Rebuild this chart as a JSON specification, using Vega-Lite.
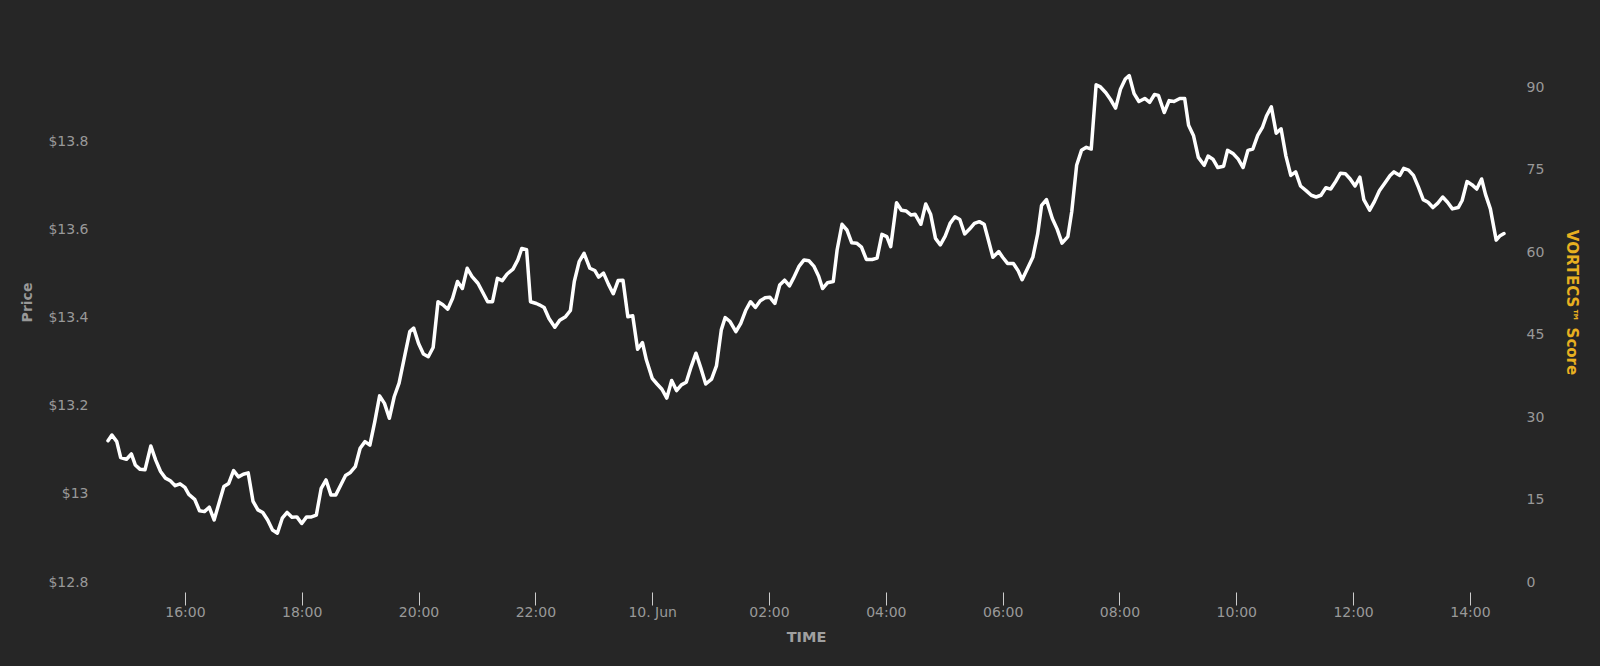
{
"$schema": "https://vega.github.io/schema/vega-lite/v6.json",
"width": 1396,
"height": 560,
"autosize": {"type": "none"},
"padding": {"left": 108, "top": 22, "right": 96, "bottom": 84},
"background": "#262626",
"config": {"view": {"stroke": null}, "font": "DejaVu Sans"},
"data": {"values": [
{"t":"2021-06-09T14:41:00Z","p":13.121},{"t":"2021-06-09T14:45:00Z","p":13.134},{"t":"2021-06-09T14:50:00Z","p":13.119},{"t":"2021-06-09T14:54:00Z","p":13.083},{"t":"2021-06-09T15:00:00Z","p":13.079},{"t":"2021-06-09T15:05:00Z","p":13.091},{"t":"2021-06-09T15:09:00Z","p":13.066},{"t":"2021-06-09T15:14:00Z","p":13.056},{"t":"2021-06-09T15:19:00Z","p":13.055},{"t":"2021-06-09T15:25:00Z","p":13.109},{"t":"2021-06-09T15:30:00Z","p":13.077},{"t":"2021-06-09T15:35:00Z","p":13.051},{"t":"2021-06-09T15:40:00Z","p":13.036},{"t":"2021-06-09T15:45:00Z","p":13.030},{"t":"2021-06-09T15:50:00Z","p":13.019},{"t":"2021-06-09T15:55:00Z","p":13.023},{"t":"2021-06-09T16:00:00Z","p":13.015},{"t":"2021-06-09T16:04:00Z","p":12.999},{"t":"2021-06-09T16:10:00Z","p":12.988},{"t":"2021-06-09T16:15:00Z","p":12.962},{"t":"2021-06-09T16:20:00Z","p":12.960},{"t":"2021-06-09T16:25:00Z","p":12.970},{"t":"2021-06-09T16:30:00Z","p":12.941},{"t":"2021-06-09T16:35:00Z","p":12.979},{"t":"2021-06-09T16:40:00Z","p":13.017},{"t":"2021-06-09T16:45:00Z","p":13.024},{"t":"2021-06-09T16:50:00Z","p":13.053},{"t":"2021-06-09T16:55:00Z","p":13.039},{"t":"2021-06-09T17:00:00Z","p":13.045},{"t":"2021-06-09T17:05:00Z","p":13.048},{"t":"2021-06-09T17:10:00Z","p":12.983},{"t":"2021-06-09T17:15:00Z","p":12.964},{"t":"2021-06-09T17:20:00Z","p":12.958},{"t":"2021-06-09T17:25:00Z","p":12.941},{"t":"2021-06-09T17:30:00Z","p":12.918},{"t":"2021-06-09T17:35:00Z","p":12.911},{"t":"2021-06-09T17:40:00Z","p":12.945},{"t":"2021-06-09T17:45:00Z","p":12.958},{"t":"2021-06-09T17:50:00Z","p":12.947},{"t":"2021-06-09T17:55:00Z","p":12.948},{"t":"2021-06-09T18:00:00Z","p":12.933},{"t":"2021-06-09T18:05:00Z","p":12.948},{"t":"2021-06-09T18:10:00Z","p":12.948},{"t":"2021-06-09T18:15:00Z","p":12.952},{"t":"2021-06-09T18:20:00Z","p":13.013},{"t":"2021-06-09T18:25:00Z","p":13.032},{"t":"2021-06-09T18:30:00Z","p":12.998},{"t":"2021-06-09T18:35:00Z","p":12.998},{"t":"2021-06-09T18:40:00Z","p":13.020},{"t":"2021-06-09T18:45:00Z","p":13.042},{"t":"2021-06-09T18:50:00Z","p":13.049},{"t":"2021-06-09T18:55:00Z","p":13.062},{"t":"2021-06-09T19:00:00Z","p":13.104},{"t":"2021-06-09T19:05:00Z","p":13.119},{"t":"2021-06-09T19:10:00Z","p":13.111},{"t":"2021-06-09T19:15:00Z","p":13.164},{"t":"2021-06-09T19:20:00Z","p":13.223},{"t":"2021-06-09T19:25:00Z","p":13.206},{"t":"2021-06-09T19:30:00Z","p":13.172},{"t":"2021-06-09T19:35:00Z","p":13.221},{"t":"2021-06-09T19:40:00Z","p":13.252},{"t":"2021-06-09T19:46:00Z","p":13.316},{"t":"2021-06-09T19:51:00Z","p":13.369},{"t":"2021-06-09T19:55:00Z","p":13.377},{"t":"2021-06-09T20:00:00Z","p":13.342},{"t":"2021-06-09T20:05:00Z","p":13.318},{"t":"2021-06-09T20:10:00Z","p":13.312},{"t":"2021-06-09T20:15:00Z","p":13.333},{"t":"2021-06-09T20:20:00Z","p":13.437},{"t":"2021-06-09T20:25:00Z","p":13.430},{"t":"2021-06-09T20:30:00Z","p":13.420},{"t":"2021-06-09T20:35:00Z","p":13.445},{"t":"2021-06-09T20:40:00Z","p":13.483},{"t":"2021-06-09T20:45:00Z","p":13.467},{"t":"2021-06-09T20:50:00Z","p":13.513},{"t":"2021-06-09T20:55:00Z","p":13.494},{"t":"2021-06-09T21:01:00Z","p":13.479},{"t":"2021-06-09T21:06:00Z","p":13.458},{"t":"2021-06-09T21:11:00Z","p":13.437},{"t":"2021-06-09T21:16:00Z","p":13.437},{"t":"2021-06-09T21:21:00Z","p":13.490},{"t":"2021-06-09T21:26:00Z","p":13.485},{"t":"2021-06-09T21:31:00Z","p":13.500},{"t":"2021-06-09T21:37:00Z","p":13.511},{"t":"2021-06-09T21:42:00Z","p":13.532},{"t":"2021-06-09T21:46:00Z","p":13.558},{"t":"2021-06-09T21:51:00Z","p":13.555},{"t":"2021-06-09T21:55:00Z","p":13.437},{"t":"2021-06-09T22:01:00Z","p":13.433},{"t":"2021-06-09T22:04:00Z","p":13.430},{"t":"2021-06-09T22:09:00Z","p":13.424},{"t":"2021-06-09T22:14:00Z","p":13.399},{"t":"2021-06-09T22:20:00Z","p":13.379},{"t":"2021-06-09T22:25:00Z","p":13.395},{"t":"2021-06-09T22:31:00Z","p":13.403},{"t":"2021-06-09T22:36:00Z","p":13.417},{"t":"2021-06-09T22:40:00Z","p":13.483},{"t":"2021-06-09T22:45:00Z","p":13.528},{"t":"2021-06-09T22:50:00Z","p":13.547},{"t":"2021-06-09T22:56:00Z","p":13.513},{"t":"2021-06-09T23:01:00Z","p":13.508},{"t":"2021-06-09T23:05:00Z","p":13.493},{"t":"2021-06-09T23:10:00Z","p":13.502},{"t":"2021-06-09T23:15:00Z","p":13.477},{"t":"2021-06-09T23:20:00Z","p":13.455},{"t":"2021-06-09T23:25:00Z","p":13.485},{"t":"2021-06-09T23:30:00Z","p":13.486},{"t":"2021-06-09T23:35:00Z","p":13.403},{"t":"2021-06-09T23:40:00Z","p":13.405},{"t":"2021-06-09T23:45:00Z","p":13.329},{"t":"2021-06-09T23:50:00Z","p":13.344},{"t":"2021-06-09T23:54:00Z","p":13.305},
{"t":"2021-06-10T00:00:00Z","p":13.263},{"t":"2021-06-10T00:05:00Z","p":13.250},{"t":"2021-06-10T00:10:00Z","p":13.238},{"t":"2021-06-10T00:15:00Z","p":13.218},{"t":"2021-06-10T00:20:00Z","p":13.258},{"t":"2021-06-10T00:25:00Z","p":13.235},{"t":"2021-06-10T00:30:00Z","p":13.248},{"t":"2021-06-10T00:35:00Z","p":13.254},{"t":"2021-06-10T00:40:00Z","p":13.289},{"t":"2021-06-10T00:45:00Z","p":13.320},{"t":"2021-06-10T00:50:00Z","p":13.286},{"t":"2021-06-10T00:55:00Z","p":13.250},{"t":"2021-06-10T01:01:00Z","p":13.261},{"t":"2021-06-10T01:06:00Z","p":13.291},{"t":"2021-06-10T01:11:00Z","p":13.373},{"t":"2021-06-10T01:15:00Z","p":13.401},{"t":"2021-06-10T01:20:00Z","p":13.392},{"t":"2021-06-10T01:26:00Z","p":13.369},{"t":"2021-06-10T01:31:00Z","p":13.388},{"t":"2021-06-10T01:36:00Z","p":13.417},{"t":"2021-06-10T01:41:00Z","p":13.437},{"t":"2021-06-10T01:46:00Z","p":13.424},{"t":"2021-06-10T01:51:00Z","p":13.439},{"t":"2021-06-10T01:56:00Z","p":13.446},{"t":"2021-06-10T02:01:00Z","p":13.447},{"t":"2021-06-10T02:06:00Z","p":13.433},{"t":"2021-06-10T02:11:00Z","p":13.475},{"t":"2021-06-10T02:16:00Z","p":13.486},{"t":"2021-06-10T02:21:00Z","p":13.473},{"t":"2021-06-10T02:25:00Z","p":13.490},{"t":"2021-06-10T02:31:00Z","p":13.518},{"t":"2021-06-10T02:36:00Z","p":13.532},{"t":"2021-06-10T02:41:00Z","p":13.530},{"t":"2021-06-10T02:46:00Z","p":13.518},{"t":"2021-06-10T02:51:00Z","p":13.495},{"t":"2021-06-10T02:55:00Z","p":13.467},{"t":"2021-06-10T03:00:00Z","p":13.480},{"t":"2021-06-10T03:06:00Z","p":13.483},{"t":"2021-06-10T03:10:00Z","p":13.555},{"t":"2021-06-10T03:15:00Z","p":13.613},{"t":"2021-06-10T03:20:00Z","p":13.600},{"t":"2021-06-10T03:25:00Z","p":13.571},{"t":"2021-06-10T03:30:00Z","p":13.570},{"t":"2021-06-10T03:35:00Z","p":13.561},{"t":"2021-06-10T03:40:00Z","p":13.533},{"t":"2021-06-10T03:46:00Z","p":13.533},{"t":"2021-06-10T03:51:00Z","p":13.536},{"t":"2021-06-10T03:56:00Z","p":13.590},{"t":"2021-06-10T04:01:00Z","p":13.585},{"t":"2021-06-10T04:05:00Z","p":13.562},{"t":"2021-06-10T04:11:00Z","p":13.662},{"t":"2021-06-10T04:16:00Z","p":13.645},{"t":"2021-06-10T04:21:00Z","p":13.643},{"t":"2021-06-10T04:26:00Z","p":13.634},{"t":"2021-06-10T04:30:00Z","p":13.636},{"t":"2021-06-10T04:36:00Z","p":13.613},{"t":"2021-06-10T04:41:00Z","p":13.659},{"t":"2021-06-10T04:46:00Z","p":13.636},{"t":"2021-06-10T04:51:00Z","p":13.581},{"t":"2021-06-10T04:56:00Z","p":13.566},{"t":"2021-06-10T05:01:00Z","p":13.586},{"t":"2021-06-10T05:06:00Z","p":13.615},{"t":"2021-06-10T05:11:00Z","p":13.630},{"t":"2021-06-10T05:16:00Z","p":13.624},{"t":"2021-06-10T05:21:00Z","p":13.591},{"t":"2021-06-10T05:26:00Z","p":13.602},{"t":"2021-06-10T05:31:00Z","p":13.615},{"t":"2021-06-10T05:36:00Z","p":13.619},{"t":"2021-06-10T05:41:00Z","p":13.613},{"t":"2021-06-10T05:45:00Z","p":13.580},{"t":"2021-06-10T05:50:00Z","p":13.538},{"t":"2021-06-10T05:56:00Z","p":13.551},{"t":"2021-06-10T06:00:00Z","p":13.538},{"t":"2021-06-10T06:05:00Z","p":13.524},{"t":"2021-06-10T06:11:00Z","p":13.524},{"t":"2021-06-10T06:16:00Z","p":13.507},{"t":"2021-06-10T06:20:00Z","p":13.487},{"t":"2021-06-10T06:26:00Z","p":13.515},{"t":"2021-06-10T06:31:00Z","p":13.538},{"t":"2021-06-10T06:36:00Z","p":13.591},{"t":"2021-06-10T06:40:00Z","p":13.656},{"t":"2021-06-10T06:45:00Z","p":13.669},{"t":"2021-06-10T06:51:00Z","p":13.626},{"t":"2021-06-10T06:56:00Z","p":13.602},{"t":"2021-06-10T07:01:00Z","p":13.570},{"t":"2021-06-10T07:07:00Z","p":13.585},{"t":"2021-06-10T07:11:00Z","p":13.642},{"t":"2021-06-10T07:16:00Z","p":13.747},{"t":"2021-06-10T07:21:00Z","p":13.781},{"t":"2021-06-10T07:26:00Z","p":13.788},{"t":"2021-06-10T07:31:00Z","p":13.784},{"t":"2021-06-10T07:36:00Z","p":13.930},{"t":"2021-06-10T07:40:00Z","p":13.926},{"t":"2021-06-10T07:46:00Z","p":13.912},{"t":"2021-06-10T07:51:00Z","p":13.896},{"t":"2021-06-10T07:56:00Z","p":13.877},{"t":"2021-06-10T08:01:00Z","p":13.920},{"t":"2021-06-10T08:06:00Z","p":13.943},{"t":"2021-06-10T08:10:00Z","p":13.951},{"t":"2021-06-10T08:15:00Z","p":13.910},{"t":"2021-06-10T08:20:00Z","p":13.892},{"t":"2021-06-10T08:26:00Z","p":13.899},{"t":"2021-06-10T08:31:00Z","p":13.890},{"t":"2021-06-10T08:36:00Z","p":13.908},{"t":"2021-06-10T08:40:00Z","p":13.906},{"t":"2021-06-10T08:46:00Z","p":13.867},{"t":"2021-06-10T08:51:00Z","p":13.894},{"t":"2021-06-10T08:56:00Z","p":13.892},{"t":"2021-06-10T09:02:00Z","p":13.899},{"t":"2021-06-10T09:07:00Z","p":13.899},{"t":"2021-06-10T09:11:00Z","p":13.838},{"t":"2021-06-10T09:16:00Z","p":13.815},{"t":"2021-06-10T09:21:00Z","p":13.765},{"t":"2021-06-10T09:27:00Z","p":13.747},{"t":"2021-06-10T09:31:00Z","p":13.768},{"t":"2021-06-10T09:36:00Z","p":13.761},{"t":"2021-06-10T09:41:00Z","p":13.742},{"t":"2021-06-10T09:47:00Z","p":13.745},{"t":"2021-06-10T09:51:00Z","p":13.781},{"t":"2021-06-10T09:57:00Z","p":13.773},{"t":"2021-06-10T10:02:00Z","p":13.761},{"t":"2021-06-10T10:07:00Z","p":13.742},{"t":"2021-06-10T10:12:00Z","p":13.781},{"t":"2021-06-10T10:17:00Z","p":13.784},{"t":"2021-06-10T10:22:00Z","p":13.815},{"t":"2021-06-10T10:27:00Z","p":13.834},{"t":"2021-06-10T10:31:00Z","p":13.859},{"t":"2021-06-10T10:36:00Z","p":13.880},{"t":"2021-06-10T10:41:00Z","p":13.820},{"t":"2021-06-10T10:46:00Z","p":13.830},{"t":"2021-06-10T10:51:00Z","p":13.768},{"t":"2021-06-10T10:56:00Z","p":13.724},{"t":"2021-06-10T11:01:00Z","p":13.732},{"t":"2021-06-10T11:06:00Z","p":13.700},{"t":"2021-06-10T11:12:00Z","p":13.689},{"t":"2021-06-10T11:17:00Z","p":13.679},{"t":"2021-06-10T11:22:00Z","p":13.675},{"t":"2021-06-10T11:27:00Z","p":13.679},{"t":"2021-06-10T11:32:00Z","p":13.696},{"t":"2021-06-10T11:37:00Z","p":13.693},{"t":"2021-06-10T11:42:00Z","p":13.710},{"t":"2021-06-10T11:47:00Z","p":13.729},{"t":"2021-06-10T11:52:00Z","p":13.728},{"t":"2021-06-10T11:57:00Z","p":13.716},{"t":"2021-06-10T12:02:00Z","p":13.700},{"t":"2021-06-10T12:07:00Z","p":13.720},{"t":"2021-06-10T12:11:00Z","p":13.669},{"t":"2021-06-10T12:17:00Z","p":13.645},{"t":"2021-06-10T12:22:00Z","p":13.665},{"t":"2021-06-10T12:27:00Z","p":13.689},{"t":"2021-06-10T12:33:00Z","p":13.708},{"t":"2021-06-10T12:38:00Z","p":13.724},{"t":"2021-06-10T12:42:00Z","p":13.732},{"t":"2021-06-10T12:48:00Z","p":13.724},{"t":"2021-06-10T12:52:00Z","p":13.740},{"t":"2021-06-10T12:57:00Z","p":13.736},{"t":"2021-06-10T13:02:00Z","p":13.724},{"t":"2021-06-10T13:07:00Z","p":13.698},{"t":"2021-06-10T13:12:00Z","p":13.669},{"t":"2021-06-10T13:17:00Z","p":13.663},{"t":"2021-06-10T13:22:00Z","p":13.651},{"t":"2021-06-10T13:27:00Z","p":13.661},{"t":"2021-06-10T13:32:00Z","p":13.675},{"t":"2021-06-10T13:37:00Z","p":13.663},{"t":"2021-06-10T13:42:00Z","p":13.648},{"t":"2021-06-10T13:48:00Z","p":13.651},{"t":"2021-06-10T13:52:00Z","p":13.667},{"t":"2021-06-10T13:57:00Z","p":13.710},{"t":"2021-06-10T14:02:00Z","p":13.703},{"t":"2021-06-10T14:07:00Z","p":13.693},{"t":"2021-06-10T14:12:00Z","p":13.716},{"t":"2021-06-10T14:16:00Z","p":13.681},{"t":"2021-06-10T14:21:00Z","p":13.648},{"t":"2021-06-10T14:27:00Z","p":13.577},{"t":"2021-06-10T14:31:00Z","p":13.587},{"t":"2021-06-10T14:35:00Z","p":13.592}
]},
"layer": [
{
"mark": {"type": "line", "color": "#ffffff", "strokeWidth": 3.5, "strokeJoin": "round", "strokeCap": "round"},
"encoding": {
"x": {"field": "t", "type": "temporal",
"scale": {"type": "utc", "domain": ["2021-06-09T14:41:00Z", "2021-06-10T14:35:00Z"], "nice": false},
"axis": {"title": "TIME", "orient": "bottom", "domain": false, "grid": false, "offset": 10, "tickSize": 13, "tickColor": "#cccccc", "tickWidth": 1,
"values": [1623254400000, 1623261600000, 1623268800000, 1623276000000, 1623283200000, 1623290400000, 1623297600000, 1623304800000, 1623312000000, 1623319200000, 1623326400000, 1623333600000],
"labelExpr": "utchours(datum.value) == 0 ? utcFormat(datum.value, '%d. %b') : utcFormat(datum.value, '%H:%M')",
"labelColor": "#999999", "labelFont": "DejaVu Sans", "labelFontSize": 14, "labelPadding": 0, "labelFlush": false,
"titleColor": "#a0a0a0", "titleFont": "DejaVu Sans", "titleFontSize": 14.5, "titleFontWeight": "bold", "titlePadding": 11}},
"y": {"field": "p", "type": "quantitative",
"scale": {"domain": [12.8, 14.0727], "nice": false, "zero": false},
"axis": {"title": "Price", "orient": "left", "domain": false, "grid": false, "ticks": false,
"values": [12.8, 13, 13.2, 13.4, 13.6, 13.8],
"labelExpr": "'$' + datum.value",
"labelColor": "#999999", "labelFont": "DejaVu Sans", "labelFontSize": 14, "labelPadding": 20,
"titleColor": "#999999", "titleFont": "DejaVu Sans", "titleFontSize": 14, "titleFontWeight": "bold", "titlePadding": 13}}
}
},
{
"mark": {"type": "point", "opacity": 0},
"encoding": {
"y": {"datum": 0, "type": "quantitative",
"scale": {"domain": [0, 101.82], "nice": false},
"axis": {"title": "VORTECS™ Score", "orient": "right", "domain": false, "grid": false, "ticks": false,
"values": [0, 15, 30, 45, 60, 75, 90],
"labelColor": "#999999", "labelFont": "DejaVu Sans", "labelFontSize": 14, "labelPadding": 22,
"titleColor": "#e8b020", "titleFont": "DejaVu Sans", "titleFontSize": 15, "titleFontWeight": "bold", "titlePadding": 20}}
}
}
],
"resolve": {"scale": {"y": "independent"}}
}
